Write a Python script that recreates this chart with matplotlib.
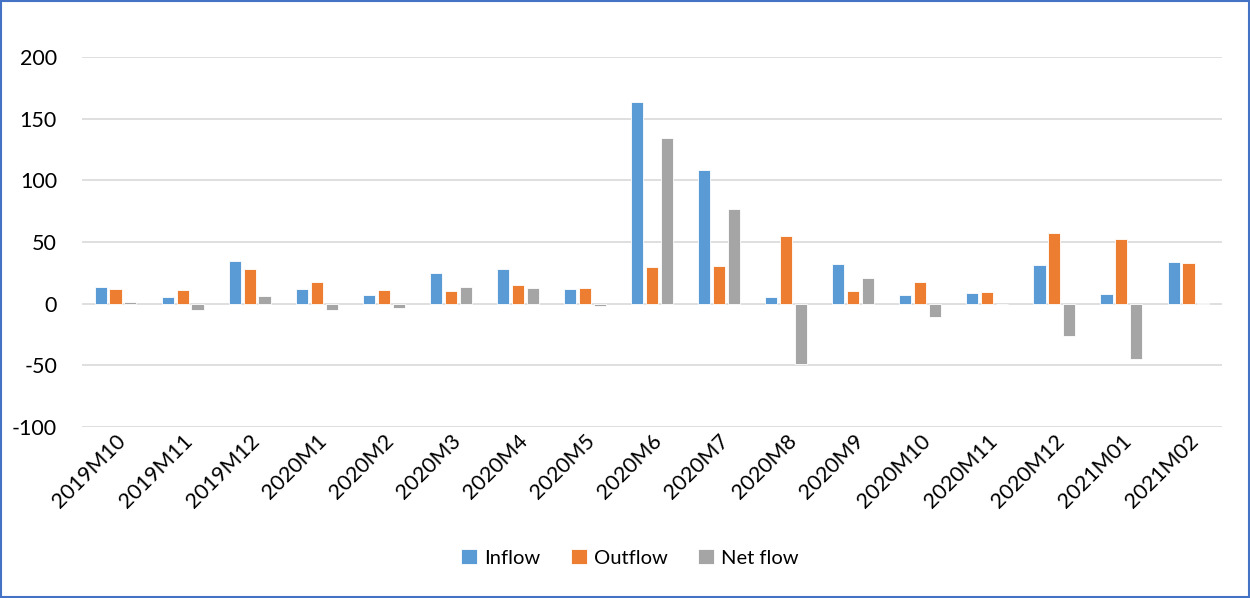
import matplotlib
matplotlib.use("Agg")
import matplotlib.pyplot as plt
import numpy as np
from matplotlib.patches import Rectangle

plt.rcParams['font.family'] = ['Lato', 'DejaVu Sans']

months = ["2019M10", "2019M11", "2019M12", "2020M1", "2020M2", "2020M3",
          "2020M4", "2020M5", "2020M6", "2020M7", "2020M8", "2020M9",
          "2020M10", "2020M11", "2020M12", "2021M01", "2021M02"]
inflow = [13.1, 5.5, 34.5, 12.0, 6.9, 24.8, 28.4, 11.6, 163.8, 108.1,
          5.7, 31.8, 6.8, 8.7, 31.4, 7.9, 33.6]
outflow = [12.0, 11.0, 28.0, 17.2, 11.0, 10.5, 14.9, 13.0, 29.5, 30.8,
           54.6, 10.5, 17.6, 9.2, 57.5, 52.3, 33.1]
netflow = [1.1, -5.5, 6.3, -5.3, -3.9, 13.8, 13.0, -1.9, 134.1, 77.0,
           -49.2, 21.0, -10.6, -0.5, -26.3, -44.7, 0.5]
yticks = [-100, -50, 0, 50, 100, 150, 200]

series = [("Inflow", inflow, "#5B9BD5"),
          ("Outflow", outflow, "#ED7D31"),
          ("Net flow", netflow, "#A5A5A5")]

fs = 15.5

fig = plt.figure(figsize=(12.5, 5.98), dpi=100)
ax = fig.add_axes([0.0656, 0.286, 0.912, 0.6187])

x = np.arange(len(months))
w = 0.18
step = 0.222
for i, (name, vals, col) in enumerate(series):
    ax.bar(x + (i - 1) * step, vals, width=w, color=col, label=name,
           edgecolor="white", linewidth=0.6, zorder=3)

ax.set_ylim(-100, 200)
ax.set_xlim(-0.5, len(months) - 0.5)
ax.set_yticks(yticks)
ax.set_yticklabels([str(v) for v in yticks], fontsize=fs)
ax.yaxis.grid(True, color="#D9D9D9", linewidth=1.2, zorder=0)
ax.set_axisbelow(True)
ax.tick_params(axis="y", length=0, pad=18)
ax.tick_params(axis="x", length=0, pad=3)
ax.set_xticks(x)
ax.set_xticklabels(months, rotation=45, ha="right", va="top",
                   rotation_mode="anchor", fontsize=fs)
for s in ax.spines.values():
    s.set_visible(False)

fig.legend(*ax.get_legend_handles_labels(), loc="center",
           bbox_to_anchor=(0.504, 0.067), ncol=3, frameon=False,
           fontsize=14.5, handlelength=0.8, handleheight=0.8,
           handletextpad=0.35, columnspacing=1.5)

fig.patches.append(Rectangle((0.001, 0.002), 0.998, 0.996, transform=fig.transFigure,
                             fill=False, edgecolor="#4472C4", linewidth=1.5))

fig.savefig("out.png", dpi=100, facecolor="white")
